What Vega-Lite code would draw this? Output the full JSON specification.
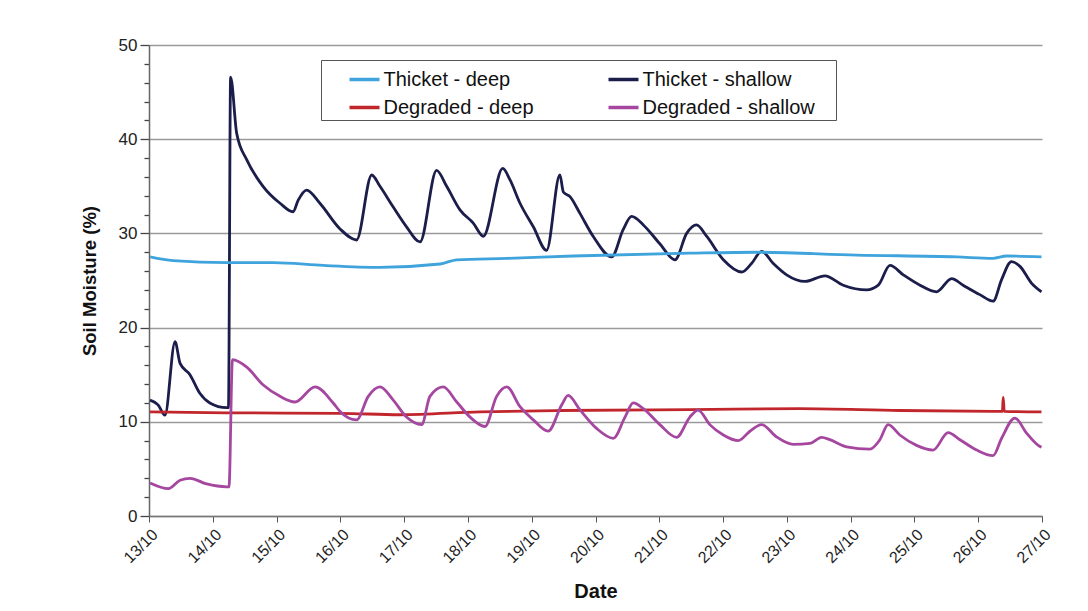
{
  "$schema": "https://vega.github.io/schema/vega-lite/v6.json",
  "width": 893,
  "height": 471,
  "autosize": {"type": "none"},
  "padding": {"left": 149, "top": 45, "right": 46, "bottom": 95},
  "background": "white",
  "config": {
    "font": "Liberation Sans",
    "view": {"stroke": null},
    "axis": {"labelFont": "Liberation Sans", "titleFont": "Liberation Sans", "labelColor": "#222", "titleColor": "#111"}
  },
  "datasets": {
    "soil": [
      {"t": "2008-10-13T00:24", "v": 12.3, "s": "Thicket - shallow"},
      {"t": "2008-10-13T03:24", "v": 11.8, "s": "Thicket - shallow"},
      {"t": "2008-10-13T06:00", "v": 10.7, "s": "Thicket - shallow"},
      {"t": "2008-10-13T09:48", "v": 18.5, "s": "Thicket - shallow"},
      {"t": "2008-10-13T11:42", "v": 16.2, "s": "Thicket - shallow"},
      {"t": "2008-10-13T15:24", "v": 15.0, "s": "Thicket - shallow"},
      {"t": "2008-10-13T19:12", "v": 13.0, "s": "Thicket - shallow"},
      {"t": "2008-10-13T22:54", "v": 12.0, "s": "Thicket - shallow"},
      {"t": "2008-10-14T05:12", "v": 11.5, "s": "Thicket - shallow"},
      {"t": "2008-10-14T05:54", "v": 11.5, "s": "Thicket - shallow"},
      {"t": "2008-10-14T06:42", "v": 46.6, "s": "Thicket - shallow"},
      {"t": "2008-10-14T09:00", "v": 40.6, "s": "Thicket - shallow"},
      {"t": "2008-10-14T12:48", "v": 37.8, "s": "Thicket - shallow"},
      {"t": "2008-10-14T18:54", "v": 35.0, "s": "Thicket - shallow"},
      {"t": "2008-10-15T01:18", "v": 33.2, "s": "Thicket - shallow"},
      {"t": "2008-10-15T06:12", "v": 32.3, "s": "Thicket - shallow"},
      {"t": "2008-10-15T08:06", "v": 33.5, "s": "Thicket - shallow"},
      {"t": "2008-10-15T11:18", "v": 34.6, "s": "Thicket - shallow"},
      {"t": "2008-10-15T16:18", "v": 33.2, "s": "Thicket - shallow"},
      {"t": "2008-10-15T23:48", "v": 30.5, "s": "Thicket - shallow"},
      {"t": "2008-10-16T06:06", "v": 29.3, "s": "Thicket - shallow"},
      {"t": "2008-10-16T11:48", "v": 36.2, "s": "Thicket - shallow"},
      {"t": "2008-10-16T14:54", "v": 35.0, "s": "Thicket - shallow"},
      {"t": "2008-10-16T19:54", "v": 32.8, "s": "Thicket - shallow"},
      {"t": "2008-10-17T00:54", "v": 30.7, "s": "Thicket - shallow"},
      {"t": "2008-10-17T06:00", "v": 29.1, "s": "Thicket - shallow"},
      {"t": "2008-10-17T12:12", "v": 36.7, "s": "Thicket - shallow"},
      {"t": "2008-10-17T16:00", "v": 35.0, "s": "Thicket - shallow"},
      {"t": "2008-10-17T21:00", "v": 32.5, "s": "Thicket - shallow"},
      {"t": "2008-10-18T02:00", "v": 31.1, "s": "Thicket - shallow"},
      {"t": "2008-10-18T05:48", "v": 29.7, "s": "Thicket - shallow"},
      {"t": "2008-10-18T13:06", "v": 36.9, "s": "Thicket - shallow"},
      {"t": "2008-10-18T15:48", "v": 35.7, "s": "Thicket - shallow"},
      {"t": "2008-10-18T19:36", "v": 33.2, "s": "Thicket - shallow"},
      {"t": "2008-10-19T00:36", "v": 30.7, "s": "Thicket - shallow"},
      {"t": "2008-10-19T05:36", "v": 28.2, "s": "Thicket - shallow"},
      {"t": "2008-10-19T10:36", "v": 36.2, "s": "Thicket - shallow"},
      {"t": "2008-10-19T11:54", "v": 34.4, "s": "Thicket - shallow"},
      {"t": "2008-10-19T14:24", "v": 33.9, "s": "Thicket - shallow"},
      {"t": "2008-10-19T18:12", "v": 32.1, "s": "Thicket - shallow"},
      {"t": "2008-10-19T23:06", "v": 29.7, "s": "Thicket - shallow"},
      {"t": "2008-10-20T06:06", "v": 27.5, "s": "Thicket - shallow"},
      {"t": "2008-10-20T10:24", "v": 30.4, "s": "Thicket - shallow"},
      {"t": "2008-10-20T13:36", "v": 31.8, "s": "Thicket - shallow"},
      {"t": "2008-10-20T18:00", "v": 30.9, "s": "Thicket - shallow"},
      {"t": "2008-10-21T00:12", "v": 28.9, "s": "Thicket - shallow"},
      {"t": "2008-10-21T05:54", "v": 27.2, "s": "Thicket - shallow"},
      {"t": "2008-10-21T10:18", "v": 30.0, "s": "Thicket - shallow"},
      {"t": "2008-10-21T14:00", "v": 30.9, "s": "Thicket - shallow"},
      {"t": "2008-10-21T17:48", "v": 29.7, "s": "Thicket - shallow"},
      {"t": "2008-10-22T00:06", "v": 27.2, "s": "Thicket - shallow"},
      {"t": "2008-10-22T07:00", "v": 25.9, "s": "Thicket - shallow"},
      {"t": "2008-10-22T10:42", "v": 26.8, "s": "Thicket - shallow"},
      {"t": "2008-10-22T14:30", "v": 28.1, "s": "Thicket - shallow"},
      {"t": "2008-10-22T18:54", "v": 26.8, "s": "Thicket - shallow"},
      {"t": "2008-10-22T23:54", "v": 25.6, "s": "Thicket - shallow"},
      {"t": "2008-10-23T06:48", "v": 24.9, "s": "Thicket - shallow"},
      {"t": "2008-10-23T14:18", "v": 25.5, "s": "Thicket - shallow"},
      {"t": "2008-10-23T21:12", "v": 24.5, "s": "Thicket - shallow"},
      {"t": "2008-10-24T06:00", "v": 24.0, "s": "Thicket - shallow"},
      {"t": "2008-10-24T10:24", "v": 24.5, "s": "Thicket - shallow"},
      {"t": "2008-10-24T14:48", "v": 26.6, "s": "Thicket - shallow"},
      {"t": "2008-10-24T19:48", "v": 25.6, "s": "Thicket - shallow"},
      {"t": "2008-10-25T02:06", "v": 24.5, "s": "Thicket - shallow"},
      {"t": "2008-10-25T08:18", "v": 23.8, "s": "Thicket - shallow"},
      {"t": "2008-10-25T14:00", "v": 25.2, "s": "Thicket - shallow"},
      {"t": "2008-10-25T18:18", "v": 24.5, "s": "Thicket - shallow"},
      {"t": "2008-10-26T00:36", "v": 23.5, "s": "Thicket - shallow"},
      {"t": "2008-10-26T05:36", "v": 22.8, "s": "Thicket - shallow"},
      {"t": "2008-10-26T08:48", "v": 25.1, "s": "Thicket - shallow"},
      {"t": "2008-10-26T12:30", "v": 27.0, "s": "Thicket - shallow"},
      {"t": "2008-10-26T15:42", "v": 26.5, "s": "Thicket - shallow"},
      {"t": "2008-10-26T20:06", "v": 24.7, "s": "Thicket - shallow"},
      {"t": "2008-10-26T23:48", "v": 23.8, "s": "Thicket - shallow"},

      {"t": "2008-10-13T00:24", "v": 27.5, "s": "Thicket - deep"},
      {"t": "2008-10-13T09:06", "v": 27.1, "s": "Thicket - deep"},
      {"t": "2008-10-14T05:12", "v": 26.9, "s": "Thicket - deep"},
      {"t": "2008-10-14T22:48", "v": 26.9, "s": "Thicket - deep"},
      {"t": "2008-10-15T17:36", "v": 26.6, "s": "Thicket - deep"},
      {"t": "2008-10-16T14:54", "v": 26.4, "s": "Thicket - deep"},
      {"t": "2008-10-17T13:30", "v": 26.75, "s": "Thicket - deep"},
      {"t": "2008-10-17T19:48", "v": 27.2, "s": "Thicket - deep"},
      {"t": "2008-10-18T14:36", "v": 27.35, "s": "Thicket - deep"},
      {"t": "2008-10-19T15:36", "v": 27.6, "s": "Thicket - deep"},
      {"t": "2008-10-21T11:30", "v": 27.9, "s": "Thicket - deep"},
      {"t": "2008-10-22T12:36", "v": 28.0, "s": "Thicket - deep"},
      {"t": "2008-10-24T02:12", "v": 27.7, "s": "Thicket - deep"},
      {"t": "2008-10-25T15:54", "v": 27.5, "s": "Thicket - deep"},
      {"t": "2008-10-26T05:30", "v": 27.35, "s": "Thicket - deep"},
      {"t": "2008-10-26T10:42", "v": 27.6, "s": "Thicket - deep"},
      {"t": "2008-10-26T23:48", "v": 27.5, "s": "Thicket - deep"},

      {"t": "2008-10-13T00:24", "v": 11.05, "s": "Degraded - deep"},
      {"t": "2008-10-14T05:18", "v": 10.95, "s": "Degraded - deep"},
      {"t": "2008-10-15T23:54", "v": 10.9, "s": "Degraded - deep"},
      {"t": "2008-10-16T22:24", "v": 10.75, "s": "Degraded - deep"},
      {"t": "2008-10-18T04:30", "v": 11.05, "s": "Degraded - deep"},
      {"t": "2008-10-19T10:36", "v": 11.2, "s": "Degraded - deep"},
      {"t": "2008-10-21T11:30", "v": 11.3, "s": "Degraded - deep"},
      {"t": "2008-10-23T04:54", "v": 11.4, "s": "Degraded - deep"},
      {"t": "2008-10-24T18:30", "v": 11.2, "s": "Degraded - deep"},
      {"t": "2008-10-26T08:30", "v": 11.1, "s": "Degraded - deep"},
      {"t": "2008-10-26T09:06", "v": 11.1, "s": "Degraded - deep"},
      {"t": "2008-10-26T09:24", "v": 12.6, "s": "Degraded - deep"},
      {"t": "2008-10-26T09:48", "v": 11.1, "s": "Degraded - deep"},
      {"t": "2008-10-26T23:48", "v": 11.05, "s": "Degraded - deep"},

      {"t": "2008-10-13T00:24", "v": 3.5, "s": "Degraded - shallow"},
      {"t": "2008-10-13T07:18", "v": 2.9, "s": "Degraded - shallow"},
      {"t": "2008-10-13T11:42", "v": 3.8, "s": "Degraded - shallow"},
      {"t": "2008-10-13T15:24", "v": 4.0, "s": "Degraded - shallow"},
      {"t": "2008-10-13T21:42", "v": 3.4, "s": "Degraded - shallow"},
      {"t": "2008-10-14T05:12", "v": 3.1, "s": "Degraded - shallow"},
      {"t": "2008-10-14T06:06", "v": 3.1, "s": "Degraded - shallow"},
      {"t": "2008-10-14T07:24", "v": 16.6, "s": "Degraded - shallow"},
      {"t": "2008-10-14T12:48", "v": 15.8, "s": "Degraded - shallow"},
      {"t": "2008-10-14T19:00", "v": 13.9, "s": "Degraded - shallow"},
      {"t": "2008-10-15T01:18", "v": 12.7, "s": "Degraded - shallow"},
      {"t": "2008-10-15T06:54", "v": 12.1, "s": "Degraded - shallow"},
      {"t": "2008-10-15T14:30", "v": 13.7, "s": "Degraded - shallow"},
      {"t": "2008-10-15T21:18", "v": 12.0, "s": "Degraded - shallow"},
      {"t": "2008-10-15T23:54", "v": 11.1, "s": "Degraded - shallow"},
      {"t": "2008-10-16T06:06", "v": 10.2, "s": "Degraded - shallow"},
      {"t": "2008-10-16T10:30", "v": 12.7, "s": "Degraded - shallow"},
      {"t": "2008-10-16T14:54", "v": 13.7, "s": "Degraded - shallow"},
      {"t": "2008-10-16T19:54", "v": 12.3, "s": "Degraded - shallow"},
      {"t": "2008-10-17T00:54", "v": 10.5, "s": "Degraded - shallow"},
      {"t": "2008-10-17T06:36", "v": 9.7, "s": "Degraded - shallow"},
      {"t": "2008-10-17T09:42", "v": 12.7, "s": "Degraded - shallow"},
      {"t": "2008-10-17T14:42", "v": 13.7, "s": "Degraded - shallow"},
      {"t": "2008-10-17T19:48", "v": 12.1, "s": "Degraded - shallow"},
      {"t": "2008-10-18T00:48", "v": 10.5, "s": "Degraded - shallow"},
      {"t": "2008-10-18T06:24", "v": 9.5, "s": "Degraded - shallow"},
      {"t": "2008-10-18T10:48", "v": 12.7, "s": "Degraded - shallow"},
      {"t": "2008-10-18T14:36", "v": 13.7, "s": "Degraded - shallow"},
      {"t": "2008-10-18T19:36", "v": 11.6, "s": "Degraded - shallow"},
      {"t": "2008-10-19T00:36", "v": 10.2, "s": "Degraded - shallow"},
      {"t": "2008-10-19T06:12", "v": 9.0, "s": "Degraded - shallow"},
      {"t": "2008-10-19T11:18", "v": 11.8, "s": "Degraded - shallow"},
      {"t": "2008-10-19T13:42", "v": 12.8, "s": "Degraded - shallow"},
      {"t": "2008-10-19T18:06", "v": 11.3, "s": "Degraded - shallow"},
      {"t": "2008-10-20T00:24", "v": 9.3, "s": "Degraded - shallow"},
      {"t": "2008-10-20T06:42", "v": 8.25, "s": "Degraded - shallow"},
      {"t": "2008-10-20T11:06", "v": 10.5, "s": "Degraded - shallow"},
      {"t": "2008-10-20T14:12", "v": 12.0, "s": "Degraded - shallow"},
      {"t": "2008-10-20T18:00", "v": 11.4, "s": "Degraded - shallow"},
      {"t": "2008-10-21T00:12", "v": 9.7, "s": "Degraded - shallow"},
      {"t": "2008-10-21T06:30", "v": 8.35, "s": "Degraded - shallow"},
      {"t": "2008-10-21T11:30", "v": 10.5, "s": "Degraded - shallow"},
      {"t": "2008-10-21T14:36", "v": 11.25, "s": "Degraded - shallow"},
      {"t": "2008-10-21T19:00", "v": 9.7, "s": "Degraded - shallow"},
      {"t": "2008-10-22T00:06", "v": 8.6, "s": "Degraded - shallow"},
      {"t": "2008-10-22T05:42", "v": 8.0, "s": "Degraded - shallow"},
      {"t": "2008-10-22T10:06", "v": 9.0, "s": "Degraded - shallow"},
      {"t": "2008-10-22T14:30", "v": 9.7, "s": "Degraded - shallow"},
      {"t": "2008-10-22T20:06", "v": 8.4, "s": "Degraded - shallow"},
      {"t": "2008-10-23T02:24", "v": 7.6, "s": "Degraded - shallow"},
      {"t": "2008-10-23T08:42", "v": 7.7, "s": "Degraded - shallow"},
      {"t": "2008-10-23T13:06", "v": 8.35, "s": "Degraded - shallow"},
      {"t": "2008-10-23T16:12", "v": 8.1, "s": "Degraded - shallow"},
      {"t": "2008-10-23T22:30", "v": 7.35, "s": "Degraded - shallow"},
      {"t": "2008-10-24T07:12", "v": 7.1, "s": "Degraded - shallow"},
      {"t": "2008-10-24T11:00", "v": 8.1, "s": "Degraded - shallow"},
      {"t": "2008-10-24T14:06", "v": 9.7, "s": "Degraded - shallow"},
      {"t": "2008-10-24T18:30", "v": 8.6, "s": "Degraded - shallow"},
      {"t": "2008-10-25T00:48", "v": 7.5, "s": "Degraded - shallow"},
      {"t": "2008-10-25T07:00", "v": 7.0, "s": "Degraded - shallow"},
      {"t": "2008-10-25T12:42", "v": 8.85, "s": "Degraded - shallow"},
      {"t": "2008-10-25T17:06", "v": 8.1, "s": "Degraded - shallow"},
      {"t": "2008-10-25T23:24", "v": 7.0, "s": "Degraded - shallow"},
      {"t": "2008-10-26T05:36", "v": 6.4, "s": "Degraded - shallow"},
      {"t": "2008-10-26T08:48", "v": 8.25, "s": "Degraded - shallow"},
      {"t": "2008-10-26T13:48", "v": 10.4, "s": "Degraded - shallow"},
      {"t": "2008-10-26T18:12", "v": 8.8, "s": "Degraded - shallow"},
      {"t": "2008-10-26T22:36", "v": 7.5, "s": "Degraded - shallow"},
      {"t": "2008-10-26T23:48", "v": 7.3, "s": "Degraded - shallow"}
    ]
  },
  "data": {"name": "soil"},
  "mark": {"type": "line", "strokeWidth": 2.8, "strokeJoin": "round", "interpolate": "monotone"},
  "encoding": {
    "x": {"field": "t", "type": "temporal", "title": "Date",
      "scale": {"domain": ["2008-10-13T00:00", "2008-10-27T00:00"]},
      "axis": {"format": "%d/%m", "tickCount": {"interval": "day", "step": 1}, "labelAngle": -45, "labelFontSize": 16, "tickSize": 6, "tickColor": "#555", "domainColor": "#777", "domainWidth": 1.5, "grid": false, "titleFontSize": 20, "titleFontWeight": "bold", "titlePadding": 16, "labelPadding": 4}},
    "y": {"field": "v", "type": "quantitative", "title": "Soil Moisture (%)",
      "scale": {"domain": [0, 50], "nice": false},
      "axis": {"orient": "left", "values": [0,2,4,6,8,10,12,14,16,18,20,22,24,26,28,30,32,34,36,38,40,42,44,46,48,50],
        "labelExpr": "datum.value % 10 === 0 ? datum.label : ''",
        "grid": true, "gridColor": "#9a9a9a", "gridWidth": 1.5,
        "gridOpacity": {"condition": {"test": "datum.value % 10 === 0", "value": 1}, "value": 0},
        "tickSize": {"condition": {"test": "datum.value % 10 === 0", "value": 9}, "value": 5},
        "tickColor": "#444", "tickWidth": 1.3, "domainColor": "#666", "domainWidth": 1.5, "labelFontSize": 17, "labelPadding": 3, "labelOverlap": false, "titleFontSize": 18.5, "titleFontWeight": "bold", "titlePadding": 19}},
    "color": {"field": "s", "type": "nominal",
      "scale": {"domain": ["Thicket - deep", "Thicket - shallow", "Degraded - deep", "Degraded - shallow"], "range": ["#3fa3dc", "#1b1d4a", "#c0262b", "#a5479f"]},
      "legend": {"title": ".", "titleOrient": "right", "titleOpacity": 0, "titlePadding": 13, "titleFontSize": 20, "orient": "none", "legendX": 172, "legendY": 15, "direction": "horizontal", "columns": 2, "columnPadding": 48, "rowPadding": 1, "padding": 2.5, "symbolOffset": 24, "strokeColor": "#555", "fillColor": "white", "symbolType": "stroke", "symbolSize": 900, "symbolStrokeWidth": 3.5, "labelFontSize": 20, "labelFont": "Liberation Sans", "labelColor": "#111", "labelOffset": 2, "labelLimit": 400}},
    "order": {"field": "t", "type": "temporal"}
  }
}
